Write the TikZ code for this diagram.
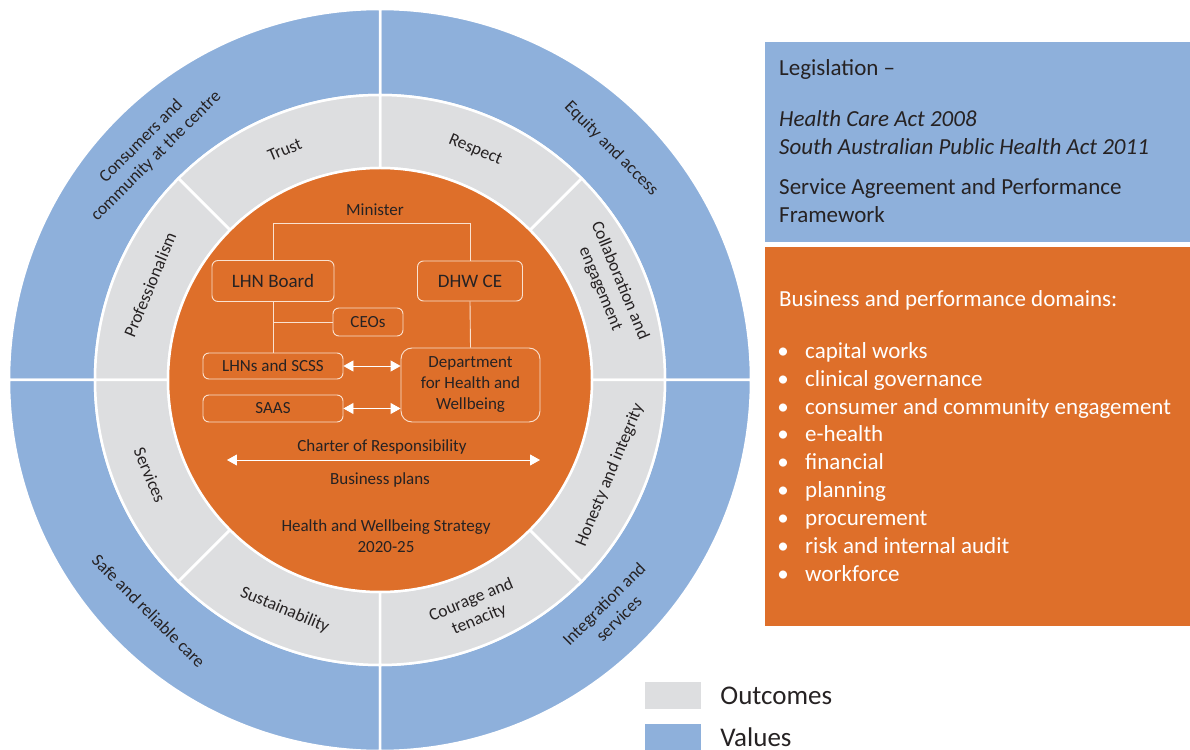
\documentclass[tikz,border=0pt]{standalone}
\usepackage{fontspec}
\setmainfont{Carlito}
\usepackage{tikz}
\usetikzlibrary{arrows.meta,positioning}
\definecolor{ValueBlue}{RGB}{142,176,219}
\definecolor{OutcomeGray}{RGB}{221,222,224}
\definecolor{CoreOrange}{RGB}{222,111,42}
\definecolor{InkGray}{RGB}{38,34,35}
\definecolor{PaleLine}{RGB}{250,226,208}

\begin{document}
\begin{tikzpicture}[
  x=1pt, y=1pt,
  ring/.style={draw=white, line width=2.5pt},
  ringlabel/.style={align=center, text=InkGray, inner sep=0pt, font=\fontsize{17.5}{21}\selectfont},
  orgbox/.style={
    draw=PaleLine,
    rounded corners=6pt,
    line width=0.9pt,
    align=center,
    text=InkGray,
    inner sep=0pt,
    font=\fontsize{17}{21}\selectfont
  },
  bigbox/.style={orgbox, font=\fontsize{19}{22}\selectfont},
  link/.style={draw=PaleLine, line width=0.9pt},
  twoway/.style={{Triangle[length=10pt,width=11pt]}-{Triangle[length=10pt,width=11pt]}, white, line width=0.9pt},
  coretext/.style={text=InkGray, inner sep=0pt, align=center, font=\fontsize{17}{21}\selectfont},
  sidetext/.style={anchor=base west, inner sep=0pt, text=InkGray, font=\fontsize{23}{28}\selectfont},
  listtext/.style={sidetext, text=white},
  keybox/.style={minimum width=56pt, minimum height=27pt, inner sep=0pt},
  keytext/.style={anchor=west, inner sep=0pt, text=InkGray, font=\fontsize{27}{30}\selectfont}
]
\useasboundingbox (-380,-369) rectangle (810,380);

% values ring, four quarters
\foreach \a in {0,90,180,270}
  \filldraw[ring, fill=ValueBlue]
    (\a:285pt) arc[start angle=\a, delta angle=90, radius=285pt]
    -- (\a+90:371pt) arc[start angle=\a+90, delta angle=-90, radius=371pt] -- cycle;
% outcomes ring, eight slices
\foreach \a in {0,45,...,315}
  \filldraw[ring, fill=OutcomeGray]
    (\a:212pt) arc[start angle=\a, delta angle=45, radius=212pt]
    -- (\a+45:285pt) arc[start angle=\a+45, delta angle=-45, radius=285pt] -- cycle;
\filldraw[ring, fill=CoreOrange] (0,0) circle[radius=212pt];

% ring labels: upper half faces out, lower half faces in
\foreach \a/\t [count=\i] in {112.5/Trust, 67.5/Respect, 22.5/{Collaboration and\\engagement}, 157.5/Professionalism}
  \node[ringlabel, rotate=\a-90] (outcome\i) at (\a:249pt) {\t};
\foreach \a/\t [count=\i from 5] in {337.5/Honesty and integrity, 292.5/{Courage and\\tenacity}, 247.5/Sustainability, 202.5/Services}
  \node[ringlabel, rotate=\a+90] (outcome\i) at (\a:249pt) {\t};
\foreach \a/\t [count=\i] in {135/{Consumers and\\community at the centre}, 45/Equity and access}
  \node[ringlabel, rotate=\a-90] (value\i) at (\a:327pt) {\t};
\foreach \a/\t [count=\i from 3] in {315/{Integration and\\services}, 225/Safe and reliable care}
  \node[ringlabel, rotate=\a+90] (value\i) at (\a:327pt) {\t};

% governance chart in the core
\node[coretext] (minister) at (-5,170) {Minister};
\node[bigbox, minimum width=122pt, minimum height=41pt] (board) at (-107,99) {LHN Board};
\node[bigbox, minimum width=105pt, minimum height=40pt] (dhwce) at (90,99) {DHW CE};
\node[orgbox, minimum width=70pt, minimum height=28pt] (ceos) at (-12,58) {CEOs};
\node[orgbox, minimum width=140pt, minimum height=26pt] (lhns) at (-107,14) {LHNs and SCSS};
\node[orgbox, minimum width=140pt, minimum height=27pt] (saas) at (-107,-28.5) {SAAS};
\node[orgbox, minimum width=139pt, minimum height=74pt, rounded corners=11pt] (dept) at (90.5,-5)
  {Department\\for Health and\\Wellbeing};

\draw[link] (board.north) -- ++(0,37) -| (dhwce.north);
\draw[link] (board.south) -- (lhns.north);
\draw[link] (ceos.west) -- (ceos.west -| board.south);
\draw[link] (dhwce.south) -- (dept.north);
\draw[twoway] (lhns.east) -- (lhns.east -| dept.west);
\draw[twoway] (saas.east) -- (saas.east -| dept.west);

\node[coretext] (charter) at (2,-67) {Charter of Responsibility};
\coordinate (charterL) at (-153,-80);
\coordinate (charterR) at (160,-80);
\draw[twoway] (charterL) -- (charterR);
\node[coretext] (plans) at (0,-100) {Business plans};
\node[coretext] (strategy) at (6,-156) {Health and Wellbeing Strategy\\2020-25};

% side panels
\node[fill=ValueBlue, minimum width=425pt, minimum height=200pt, anchor=north west, inner sep=0pt] (legis) at (385,338) {};
\node[fill=CoreOrange, minimum width=425pt, minimum height=379pt, anchor=north west, inner sep=0pt] (domains) at (385,133) {};

\node[sidetext] (legtitle) at (399,304.3) {Legislation --};
\node[sidetext, font=\fontsize{23}{28}\selectfont\itshape] (act1) at (399,253.3) {Health Care Act 2008};
\node[sidetext, font=\fontsize{23}{28}\selectfont\itshape] (act2) at (399,225) {South Australian Public Health Act 2011};
\node[sidetext] (agree) at (399,185) {Service Agreement and Performance};
\node[sidetext] (frame) at (399,157.3) {Framework};

\node[listtext] (domtitle) at (399,73.3) {Business and performance domains:};
\foreach \t [count=\i] in {capital works, clinical governance, consumer and community engagement,
    e-health, financial, planning, procurement, risk and internal audit, workforce} {
  \node[listtext, anchor=base] (dot\i) at (403,{49.6-27.9*\i}) {\textbullet};
  \node[listtext] (item\i) at (425,{49.6-27.9*\i}) {\t};
}

% legend
\node[keybox, fill=OutcomeGray] (keyout) at (293,-315.5) {};
\node[keytext, right=19pt of keyout] (keyouttext) {Outcomes};
\node[keybox, fill=ValueBlue] (keyval) at (293,-357.5) {};
\node[keytext, right=19pt of keyval] (keyvaltext) {Values};
\end{tikzpicture}
\end{document}
